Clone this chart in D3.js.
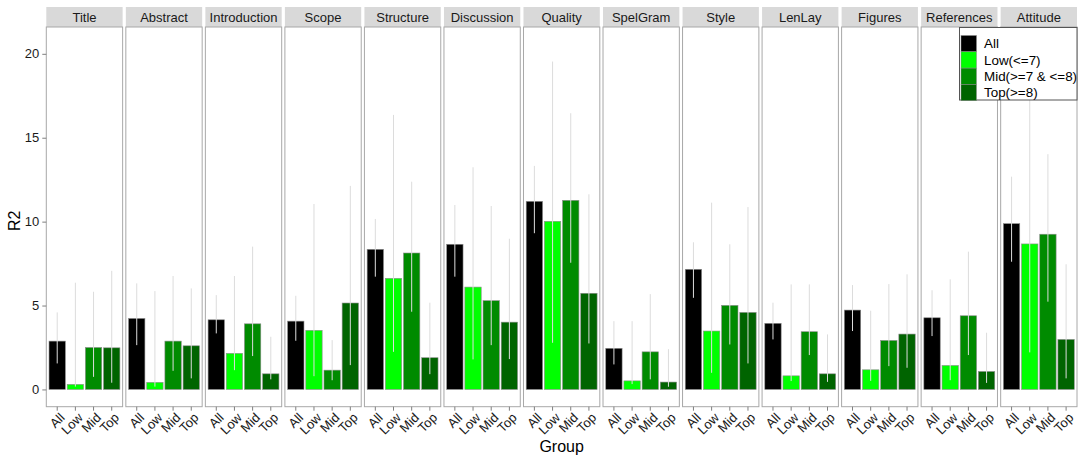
<!DOCTYPE html>
<html>
<head>
<meta charset="utf-8">
<script src="https://cdn.jsdelivr.net/npm/d3@7"></script>
<style>
  html, body { margin: 0; padding: 0; background: #fff; }
  svg { display: block; font-family: "Liberation Sans", Arial, Helvetica, sans-serif; }
</style>
</head>
<body>
<svg id="chart" width="1085" height="457"></svg>
<script>
// Facets (one panel per aspect), groups within each panel
const aspects = ["Title", "Abstract", "Introduction", "Scope", "Structure", "Discussion",
  "Quality", "SpelGram", "Style", "LenLay", "Figures", "References", "Attitude"];
const groups = ["All", "Low", "Mid", "Top"];
const legendLabels = ["All", "Low(<=7)", "Mid(>=7 & <=8)", "Top(>=8)"];
const groupColors = ["#000000", "#00ff00", "#008b00", "#006400"];
const yTicks = [0, 5, 10, 15, 20];

// Mean R2 per aspect, ordered All, Low, Mid, Top
const r2 = [
  [2.88, 0.30, 2.50, 2.48],
  [4.23, 0.42, 2.88, 2.60],
  [4.15, 2.15, 3.91, 0.93],
  [4.07, 3.52, 1.15, 5.15],
  [8.35, 6.62, 8.13, 1.89],
  [8.65, 6.10, 5.29, 4.01],
  [11.21, 10.02, 11.27, 5.73],
  [2.45, 0.51, 2.24, 0.44],
  [7.16, 3.48, 5.01, 4.59],
  [3.94, 0.81, 3.44, 0.93],
  [4.73, 1.17, 2.92, 3.30],
  [4.27, 1.43, 4.39, 1.07],
  [9.88, 8.67, 9.25, 2.98]
];
// Interval bounds
const r2Low = [
  [1.55, 0.17, 0.75, 0.40],
  [2.64, 0.17, 1.11, 0.66],
  [3.34, 1.15, 1.99, 0.60],
  [2.90, 0.79, 0.55, 1.45],
  [6.72, 2.24, 4.63, 0.91],
  [6.72, 1.79, 2.64, 1.81],
  [9.31, 2.78, 7.55, 2.74],
  [1.49, 0.32, 0.60, 0.16],
  [5.46, 0.99, 2.68, 1.55],
  [2.98, 0.50, 2.05, 0.45],
  [3.48, 0.51, 1.39, 1.29],
  [3.18, 0.55, 2.05, 0.39],
  [7.61, 2.21, 5.23, 0.66]
];
const r2High = [
  [4.59, 6.36, 5.82, 7.07],
  [6.32, 5.86, 6.76, 6.02],
  [5.62, 6.76, 8.51, 3.14],
  [5.58, 11.05, 2.94, 12.13],
  [10.16, 16.36, 12.38, 5.17],
  [10.99, 13.24, 10.93, 8.98],
  [13.32, 19.54, 16.46, 11.63],
  [4.07, 4.07, 5.68, 2.40],
  [8.77, 11.13, 8.65, 10.87],
  [5.17, 6.26, 6.26, 3.28],
  [6.22, 4.69, 6.28, 6.86],
  [5.91, 6.56, 8.21, 3.38],
  [12.68, 20.57, 14.02, 7.46]
];

const svg = d3.select("#chart");

const plotLeft = 46.3, plotRight = 1077;
const stripTop = 7, stripBottom = 27, panelBottom = 406.7;
const panelGap = 3.2;
const panelW = (plotRight - plotLeft - panelGap * (aspects.length - 1)) / aspects.length;

// Shared y scale with ggplot-like 5% expansion
const yMax = d3.max(r2High.flat());
const yPad = yMax * 0.05;
const y = d3.scaleLinear().domain([-yPad, yMax + yPad]).range([panelBottom, stripBottom]);

// Discrete x inside each panel: 0.6 unit padding at both ends, bar width 0.9
const xUnit = d3.scaleLinear().domain([0.4, groups.length + 0.6]).range([0, panelW]);
const barW = xUnit(1.9) - xUnit(1);

const color = d3.scaleOrdinal().domain(groups).range(groupColors);

aspects.forEach((aspect, i) => {
  const x0 = plotLeft + i * (panelW + panelGap);
  const g = svg.append("g").attr("transform", `translate(${x0},0)`);

  // strip
  g.append("rect").attr("x", 0).attr("y", stripTop).attr("width", panelW)
    .attr("height", stripBottom - stripTop).attr("fill", "#d9d9d9");
  g.append("text").attr("x", panelW / 2).attr("y", (stripTop + stripBottom) / 2 + 4.7)
    .attr("text-anchor", "middle").attr("font-size", 13).attr("fill", "#1a1a1a").text(aspect);

  // panel background
  g.append("rect").attr("x", 0).attr("y", stripBottom).attr("width", panelW)
    .attr("height", panelBottom - stripBottom).attr("fill", "#fff");

  const rows = groups.map((grp, j) => ({ grp, j, v: r2[i][j], lo: r2Low[i][j], hi: r2High[i][j] }));

  g.selectAll("rect.bar").data(rows).join("rect").attr("class", "bar")
    .attr("x", d => xUnit(d.j + 1) - barW / 2)
    .attr("width", barW)
    .attr("y", d => y(d.v))
    .attr("height", d => y(0) - y(d.v))
    .attr("fill", d => color(d.grp))
    .attr("stroke", "#8c8c8c").attr("stroke-width", 0.6);

  g.selectAll("line.err").data(rows).join("line").attr("class", "err")
    .attr("x1", d => xUnit(d.j + 1)).attr("x2", d => xUnit(d.j + 1))
    .attr("y1", d => y(d.lo)).attr("y2", d => y(d.hi))
    .attr("stroke", "#dcdcdc").attr("stroke-width", 1);

  // panel border
  g.append("rect").attr("x", 0).attr("y", stripBottom).attr("width", panelW)
    .attr("height", panelBottom - stripBottom).attr("fill", "none")
    .attr("stroke", "#a8a8a8").attr("stroke-width", 1);

  // x axis
  const xAxis = g.append("g").attr("transform", `translate(0,${panelBottom})`);
  groups.forEach((grp, j) => {
    const xt = xUnit(j + 1);
    xAxis.append("line").attr("x1", xt).attr("x2", xt).attr("y1", 0).attr("y2", 4)
      .attr("stroke", "#7f7f7f");
    xAxis.append("text")
      .attr("transform", `translate(${xt + 5},${8.5}) rotate(-45)`)
      .attr("text-anchor", "end").attr("font-size", 13).attr("fill", "#1a1a1a")
      .attr("dy", "0.35em").text(grp);
  });
});

// y axis
const yAxis = d3.axisLeft(y).tickValues(yTicks).tickSize(4).tickPadding(3);
const ya = svg.append("g").attr("transform", `translate(${plotLeft},0)`).call(yAxis);
ya.select(".domain").remove();
ya.selectAll(".tick line").attr("stroke", "#7f7f7f");
ya.selectAll(".tick text").attr("font-size", 13).attr("fill", "#1a1a1a")
  .attr("font-family", "'Liberation Sans', Arial, sans-serif");

// axis titles
svg.append("text").attr("transform", `translate(20,${(stripBottom + panelBottom) / 2 + 4}) rotate(-90)`)
  .attr("text-anchor", "middle").attr("font-size", 16).attr("fill", "#000").text("R2");
svg.append("text").attr("x", (plotLeft + plotRight) / 2).attr("y", 452)
  .attr("text-anchor", "middle").attr("font-size", 16).attr("fill", "#000").text("Group");

// legend (drawn over the last panel)
const lg = svg.append("g").attr("transform", "translate(959.5,27.5)");
lg.append("rect").attr("width", 117.5).attr("height", 72.5)
  .attr("fill", "#fff").attr("stroke", "#555").attr("stroke-width", 1);
legendLabels.forEach((lab, k) => {
  const row = lg.append("g").attr("transform", `translate(1.5,${8 + k * 16.3})`);
  row.append("rect").attr("width", 15.5).attr("height", 16.3).attr("fill", groupColors[k])
    .attr("stroke", "#8c8c8c").attr("stroke-width", 0.5);
  row.append("text").attr("x", 23).attr("y", 8.3).attr("dy", "0.35em")
    .attr("font-size", 13.4).attr("fill", "#000").text(lab);
});
</script>
</body>
</html>
